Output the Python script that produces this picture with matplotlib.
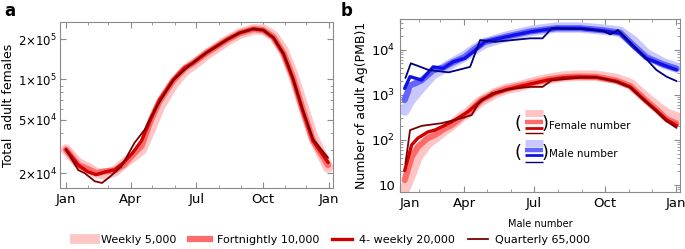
import numpy as np
import matplotlib
matplotlib.use('Agg')
import matplotlib.pyplot as plt
from matplotlib.lines import Line2D
from matplotlib.ticker import FixedLocator, NullFormatter, LogLocator

# ---- data (day of year) ----

# panel a : total adult females
days_a = [0, 17, 30, 42, 54, 68, 80, 93, 105, 118, 130, 149, 165, 176, 195,
          223, 241, 260, 274, 288, 302, 315, 329, 343, 364]
weekly_a = [3.0e4, 2.37e4, 2.2e4, 2.0e4, 1.95e4, 2.06e4, 2.35e4, 2.65e4, 2.98e4,
            4.3e4, 6.2e4, 9.2e4, 1.16e5, 1.27e5, 1.53e5, 1.93e5, 2.19e5, 2.36e5,
            2.35e5, 2.12e5, 1.65e5, 1.1e5, 6.4e4, 3.75e4, 2.2e4]
fortnightly_a = [3.0e4, 2.3e4, 2.15e4, 2.0e4, 2.06e4, 2.1e4, 2.3e4, 2.75e4, 3.2e4,
                 5.0e4, 6.9e4, 9.8e4, 1.21e5, 1.32e5, 1.57e5, 1.96e5, 2.21e5, 2.37e5,
                 2.33e5, 2.07e5, 1.57e5, 1.04e5, 5.9e4, 3.5e4, 2.3e4]
fourweekly_a = [3.0e4, 2.3e4, 2.05e4, 1.95e4, 2.04e4, 2.12e4, 2.4e4, 2.85e4, 3.5e4,
                5.1e4, 7.0e4, 9.9e4, 1.22e5, 1.32e5, 1.58e5, 1.97e5, 2.22e5, 2.38e5,
                2.33e5, 2.05e5, 1.55e5, 1.02e5, 5.8e4, 3.5e4, 2.4e4]
days_qa = [0, 17, 26, 40, 50, 61, 77, 95, 109, 123, 149, 176, 195, 223, 241, 260,
           274, 288, 302, 315, 329, 343, 364]
quarterly_a = [3.0e4, 2.11e4, 2.0e4, 1.74e4, 1.69e4, 1.88e4, 2.24e4, 3.36e4, 4.2e4,
               5.9e4, 9.9e4, 1.33e5, 1.58e5, 1.97e5, 2.22e5, 2.38e5, 2.33e5, 2.05e5,
               1.56e5, 1.03e5, 5.9e4, 3.6e4, 2.6e4]

# panel b : females
days_f = [13, 22, 30, 43, 52, 65, 74, 87, 95, 108, 113, 130, 145, 160, 180,
          200, 219, 240, 262, 288, 306, 327, 340, 353, 366]
weekly_f = [7.8, 18.5, 43, 85, 110, 165, 210, 327, 400, 650, 740, 1080, 1350, 1510,
            1900, 2250, 2550, 2650, 2650, 2250, 1750, 850, 560, 380, 320]
fortnightly_f = [12.9, 42, 70, 110, 128, 180, 214, 320, 390, 640, 770, 1100, 1350,
                 1550, 1850, 2200, 2450, 2550, 2500, 2050, 1550, 730, 470, 290, 230]
fourweekly_f = [21, 77, 109, 150, 165, 210, 253, 340, 420, 640, 770, 1080, 1300, 1500,
                1800, 2150, 2400, 2500, 2450, 2000, 1500, 700, 450, 280, 210]
days_qf = [14, 20, 35, 61, 82, 100, 109, 126, 150, 176, 192, 204, 240, 262, 288,
           306, 327, 340, 353, 366]
quarterly_f = [30, 165, 205, 235, 288, 356, 650, 1080, 1350, 1500, 1500, 2100, 2400,
               2450, 1950, 1450, 680, 430, 260, 185]

# panel b : males
days_m = [13, 20, 35, 50, 63, 76, 91, 102, 117, 145, 176, 210, 241, 271, 293, 310,
          327, 349, 366]
weekly_m = [450, 750, 1500, 2900, 3800, 5200, 7200, 9800, 14000, 19500, 26000, 31000,
            31000, 28000, 25000, 15500, 8000, 5000, 4000]
fortnightly_m = [770, 1600, 2100, 3500, 4000, 5300, 6900, 9800, 14800, 19500, 25500,
                 30000, 30000, 27000, 23800, 12500, 6800, 4700, 3800]
fourweekly_m = [1390, 2530, 2130, 4170, 3870, 5400, 6470, 9000, 15000, 19400, 25000,
                30000, 30000, 26300, 23100, 11700, 6470, 4570, 3600]
days_qm = [14, 21, 30, 44, 70, 98, 111, 130, 176, 192, 204, 241, 271, 280, 290, 318,
           340, 353, 366]
quarterly_m = [2360, 5000, 4400, 3560, 3150, 4170, 16400, 15000, 17900, 17900, 29800,
               29000, 26000, 21900, 27400, 9000, 3550, 2530, 2020]

month_major = [0, 90, 181, 273, 365]
month_minor = [31, 59, 120, 151, 212, 243, 304, 334]

# styles: weekly, fortnightly, 4-weekly, quarterly
reds = ['#ffc4c4', '#ff6b6b', '#d00000', '#7a0000']
blues = ['#c8c8ff', '#6464ff', '#1010e6', '#000080']
widths = [7.5, 4.5, 2.4, 1.3]
labels = ['Weekly 5,000', 'Fortnightly 10,000', '4- weekly 20,000', 'Quarterly 65,000']

plt.rcParams['font.family'] = 'DejaVu Sans'
framecol = '#8a8a8a'


def style_axis(ax):
    for s in ax.spines.values():
        s.set_color(framecol)
        s.set_linewidth(0.8)
    ax.tick_params(which='both', direction='in', top=True, right=True,
                   color=framecol, labelsize=9.5)
    ax.tick_params(which='major', length=4)
    ax.tick_params(which='minor', length=2)
    ax.xaxis.set_minor_locator(FixedLocator(month_minor))
    ax.yaxis.set_minor_formatter(NullFormatter())


fig = plt.figure(figsize=(6.85, 2.49), dpi=100)

# ---------- panel a ----------
axa = fig.add_axes([0.0876, 0.245, 0.3985, 0.6667])
axa.set_yscale('log')
for d, v, c, w in zip([days_a, days_a, days_a, days_qa],
                      [weekly_a, fortnightly_a, fourweekly_a, quarterly_a],
                      reds, widths):
    axa.plot(d, v, color=c, lw=w, solid_joinstyle='round', solid_capstyle='round')
axa.set_xlim(-8.3, 370.8)
axa.set_ylim(1.55e4, 2.68e5)
axa.set_xticks(month_major)
axa.set_xticklabels(['Jan', 'Apr', 'Jul', 'Oct', 'Jan'])
axa.set_yticks([2e4, 5e4, 1e5, 2e5])
axa.set_yticklabels([r'$2{\times}10^{4}$', r'$5{\times}10^{4}$',
                     r'$1{\times}10^{5}$', r'$2{\times}10^{5}$'])
axa.yaxis.set_minor_locator(LogLocator(base=10, subs=np.arange(1, 10)))
style_axis(axa)
axa.tick_params(axis='y', labelsize=8.5, pad=2)
axa.set_ylabel('Total  adult females', fontsize=9, labelpad=2)
fig.text(0.006, 0.935, 'a', fontsize=12, fontweight='bold')

# ---------- panel b ----------
axb = fig.add_axes([0.584, 0.230, 0.4088, 0.6936])
axb.set_yscale('log')
for d, v, c, w in zip([days_m, days_m, days_m, days_qm],
                      [weekly_m, fortnightly_m, fourweekly_m, quarterly_m],
                      blues, widths):
    axb.plot(d, v, color=c, lw=w, solid_joinstyle='round', solid_capstyle='round')
for d, v, c, w in zip([days_f, days_f, days_f, days_qf],
                      [weekly_f, fortnightly_f, fourweekly_f, quarterly_f],
                      reds, widths):
    axb.plot(d, v, color=c, lw=w, solid_joinstyle='round', solid_capstyle='round')
axb.set_xlim(7, 370.6)
axb.set_ylim(7.1, 4.8e4)
axb.set_xticks([7, 90, 181, 273, 365])
axb.set_xticklabels(['Jan', 'Apr', 'Jul', 'Oct', 'Jan'])
axb.get_xticklabels()[0].set_ha('left')
axb.set_yticks([10, 100, 1000, 10000])
axb.set_yticklabels(['10', r'$10^{2}$', r'$10^{3}$', r'$10^{4}$'])
axb.yaxis.set_minor_locator(LogLocator(base=10, subs=np.arange(2, 10)))
style_axis(axb)
axb.set_ylabel('Number of adult Ag(PMB)1', fontsize=9, labelpad=2)
axb.set_xlabel('Male number', fontsize=7, labelpad=7)
fig.text(0.497, 0.935, 'b', fontsize=12, fontweight='bold')

# inset legend in panel b (female / male stacks)
lx = [0.446, 0.511]
fem_y = [0.456, 0.404, 0.369, 0.340]
mal_y = [0.282, 0.241, 0.212, 0.172]
leg_w = [5.0, 3.2, 2.0, 1.0]
for y, c, w in zip(fem_y, reds, leg_w):
    axb.plot(lx, [y, y], color=c, lw=w, transform=axb.transAxes, solid_capstyle='butt')
for y, c, w in zip(mal_y, blues, leg_w):
    axb.plot(lx, [y, y], color=c, lw=w, transform=axb.transAxes, solid_capstyle='butt')
for yc, txt in [(0.392, 'Female number'), (0.226, 'Male number')]:
    axb.text(0.421, yc, '(', transform=axb.transAxes, fontsize=13,
             ha='center', va='center')
    axb.text(0.519, yc, ')', transform=axb.transAxes, fontsize=13,
             ha='center', va='center')
    axb.text(0.531, yc - 0.01, txt, transform=axb.transAxes, fontsize=7.5,
             ha='left', va='center')

# bottom legend
handles = [Line2D([0], [0], color=c, lw=w) for c, w in zip(reds, [7, 4.5, 2.4, 1.3])]
fig.legend(handles, labels, loc='center', bbox_to_anchor=(0.485, 0.035), ncol=4,
           frameon=False, fontsize=8, handlelength=1.8, handletextpad=0.6,
           columnspacing=1.2)

fig.savefig('out.png', dpi=100)
